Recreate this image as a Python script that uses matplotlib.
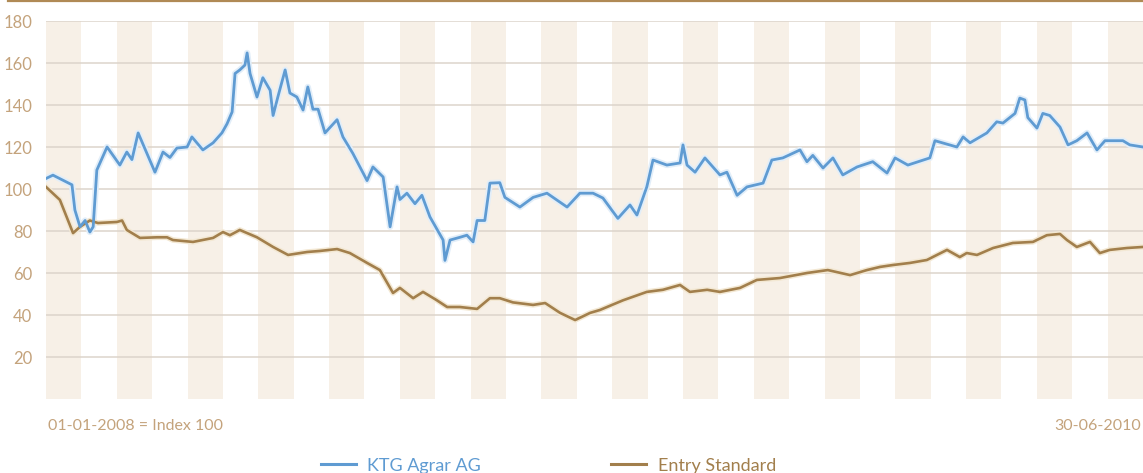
import numpy as np
import matplotlib
matplotlib.use("Agg")
import matplotlib.pyplot as plt

# months since 01-01-2008, index values
ktg_month = [0.00, 0.19, 0.71, 0.79, 0.93, 1.07, 1.20, 1.29, 1.39, 1.67, 2.02, 2.21, 2.35, 2.52,
             2.76, 2.98, 3.20, 3.39, 3.58, 3.86, 3.99, 4.29, 4.57, 4.81, 4.95, 5.09, 5.17, 5.30,
             5.44, 5.50, 5.58, 5.77, 5.93, 6.13, 6.21, 6.34, 6.54, 6.67, 6.86, 7.03, 7.16, 7.30,
             7.44, 7.63, 7.96, 8.12, 8.39, 8.78, 8.94, 9.22, 9.41, 9.60, 9.68, 9.87, 10.09, 10.28,
             10.50, 10.86, 10.91, 11.05, 11.32, 11.51, 11.68, 11.79, 12.00, 12.14, 12.41, 12.55,
             12.96, 13.32, 13.70, 14.25, 14.60, 14.96, 15.23, 15.64, 15.97, 16.16, 16.43, 16.60,
             16.98, 17.34, 17.42, 17.53, 17.75, 18.02, 18.43, 18.62, 18.90, 19.17, 19.61, 19.85,
             20.15, 20.62, 20.81, 20.97, 21.25, 21.52, 21.79, 22.18, 22.61, 23.00, 23.22, 23.57,
             24.17, 24.31, 24.91, 25.08, 25.27, 25.73, 26.00, 26.17, 26.50, 26.63, 26.77, 26.85,
             27.10, 27.26, 27.45, 27.73, 27.95, 28.19, 28.47, 28.74, 28.96, 29.45, 29.64, 30.00]
ktg_value = [105, 106.6, 102, 90, 82, 85, 79.5, 82, 109, 120, 111.4, 117.6, 114, 126.7,
             117, 108, 117.6, 115, 119.5, 120, 124.8, 118.6, 122, 126.7, 131, 136.7, 155, 156.7,
             159, 164.8, 155, 143.8, 153, 147, 135, 143.8, 156.7, 145.7, 143.8, 137.6, 148.6, 138,
             138, 126.7, 133, 124.8, 117, 104, 110.5, 105.7, 82, 101, 95, 98, 93, 97,
             86.7, 75.7, 66, 75.7, 77, 78, 74.8, 85, 85, 102.8, 103, 96,
             91.4, 96, 98, 91.4, 98, 98, 95.7, 86, 92.4, 87.6, 101, 113.8,
             111.4, 112.4, 121, 111.4, 108, 114.8, 106.7, 108, 97, 101, 102.8, 113.8,
             114.8, 118.6, 113, 116, 110, 114.8, 106.7, 110.5, 113, 107.6, 114.8, 111.4,
             114.8, 123, 120, 124.8, 122, 126.7, 132, 131.4, 136, 143.3, 142.4, 134,
             129, 136, 135, 129.5, 121, 123, 126.7, 118.6, 123, 123, 121, 120]

es_month = [0.00, 0.38, 0.74, 0.93, 1.20, 1.42, 1.94, 2.08, 2.21, 2.57, 3.04, 3.31, 3.47, 4.02,
            4.57, 4.84, 5.03, 5.30, 5.77, 6.21, 6.62, 7.14, 7.49, 7.96, 8.31, 8.78, 9.13, 9.49,
            9.68, 10.04, 10.31, 10.69, 10.97, 11.32, 11.79, 12.14, 12.41, 12.77, 13.32, 13.65,
            14.06, 14.47, 14.88, 15.15, 15.78, 16.43, 16.87, 17.34, 17.61, 18.08, 18.43, 18.98,
            19.44, 20.07, 20.81, 21.38, 21.99, 22.45, 22.81, 23.16, 23.63, 24.09, 24.64, 24.99,
            25.18, 25.46, 25.90, 26.44, 26.99, 27.37, 27.73, 27.92, 28.19, 28.55, 28.82, 29.09,
            29.56, 30.00]
es_value = [101, 94.8, 79, 82, 85, 83.8, 84.3, 85, 80.5, 76.7, 77, 77, 75.7, 74.8,
            76.7, 79.5, 78, 80.5, 77, 72.4, 68.6, 70, 70.5, 71.4, 69.5, 64.8, 61.4, 50.5,
            52.9, 48, 51, 47, 43.8, 43.8, 42.9, 48, 48, 46, 44.8, 45.7,
            41, 37.6, 41, 42.4, 47, 51, 52, 54.3, 51, 52, 51, 52.9,
            56.7, 57.6, 60, 61.4, 59, 61.4, 62.9, 63.8, 64.8, 66.2, 71, 67.6,
            69.5, 68.6, 71.9, 74.3, 74.8, 78, 78.6, 75.7, 72.4, 74.8, 69.5, 71,
            71.9, 72.4]

y_ticks = [20, 40, 60, 80, 100, 120, 140, 160, 180]
labels = ["KTG Agrar AG", "Entry Standard"]
note_left = "01-01-2008 = Index 100"
note_right = "30-06-2010"

blue = "#5f9bd2"
brown = "#a27f4c"
tan = "#c4a37c"
font = ["Lato", "DejaVu Sans"]

fig = plt.figure(figsize=(11.43, 4.73), dpi=100)
ax = fig.add_axes([46 / 1143, 1 - 399 / 473, 1 - 46 / 1143, 378 / 473])

edges = np.linspace(0, 30, 32)
for i in range(0, 31, 2):
    ax.axvspan(edges[i], edges[i + 1], color="#f7f0e7", lw=0, zorder=0)

for t in y_ticks:
    ax.axhline(t, color="#dcd4cb", lw=1.1, zorder=1)

ax.plot(ktg_month, ktg_value, color="#e2eef9", lw=4.5, zorder=2, solid_joinstyle="round")
ax.plot(es_month, es_value, color="#f3e8d3", lw=4, zorder=2, solid_joinstyle="round")
ax.plot(es_month, es_value, color=brown, lw=1.9, zorder=3)
ax.plot(ktg_month, ktg_value, color=blue, lw=2.0, zorder=3)

ax.set_xlim(0, 30)
ax.set_ylim(0, 180)
ax.set_xticks([])
ax.set_yticks(y_ticks)
ax.set_yticklabels([str(t) for t in y_ticks], color=tan, fontsize=12, family=font)
ax.tick_params(axis="y", length=0, pad=10)
for s in ax.spines.values():
    s.set_visible(False)

fig.add_artist(plt.Line2D([8 / 1143, 1], [1 - 1.5 / 473] * 2, color="#b08a55", lw=1.6))

fig.text(48 / 1143, 1 - 426 / 473, note_left, color=tan, fontsize=11.5, family=font, va="center")
fig.text(1141 / 1143, 1 - 426 / 473, note_right, color=tan, fontsize=11.5, family=font,
         va="center", ha="right")

yl = 1 - 464 / 473
fig.add_artist(plt.Line2D([321 / 1143, 356 / 1143], [yl, yl], color=blue, lw=2.2))
fig.text(367 / 1143, 1 - 471 / 473, labels[0], color=blue, fontsize=13, family=font, va="baseline")
fig.add_artist(plt.Line2D([611 / 1143, 646 / 1143], [yl, yl], color=brown, lw=2.2))
fig.text(658 / 1143, 1 - 471 / 473, labels[1], color=brown, fontsize=13, family=font, va="baseline")

fig.savefig("out.png", dpi=100)
